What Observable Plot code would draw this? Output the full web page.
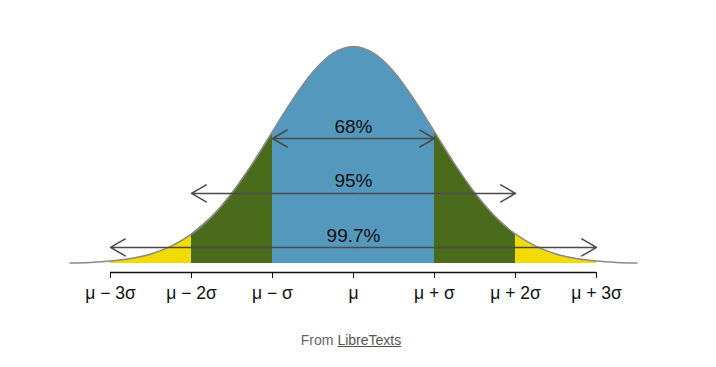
<!DOCTYPE html>
<html>
<head>
<meta charset="utf-8">
<script src="https://cdn.jsdelivr.net/npm/d3@7"></script>
<script src="https://cdn.jsdelivr.net/npm/@observablehq/plot@0.6"></script>
<style>
  html, body { margin: 0; padding: 0; background: #fff; }
  #chart svg { display: block; }
  .cap { width: 702px; text-align: center; font-family: "Liberation Sans", Arial, sans-serif; font-size: 14px; color: #666; line-height: 20px; padding-top: 20px; }
  .cap a { color: #555; text-decoration: underline; }
</style>
</head>
<body>
<div id="chart"></div>
<div class="cap">From <a>LibreTexts</a></div>
<script>
// x in units of σ from μ; y = relative density (peak = 1)
const xs = [-3.5,-3.25,-3,-2.75,-2.5,-2.25,-2,-1.75,-1.5,-1.25,-1,-0.75,-0.5,-0.25,0,0.25,0.5,0.75,1,1.25,1.5,1.75,2,2.25,2.5,2.75,3,3.25,3.5];
const ys = [0.002,0.005,0.011,0.023,0.044,0.080,0.135,0.216,0.325,0.458,0.607,0.755,0.883,0.969,1,0.969,0.883,0.755,0.607,0.458,0.325,0.216,0.135,0.080,0.044,0.023,0.011,0.005,0.002];

const tickValues = [-3,-2,-1,0,1,2,3];
const tickLabels = ["μ − 3σ","μ − 2σ","μ − σ","μ","μ + σ","μ + 2σ","μ + 3σ"];

const bandLabels = ["68%","95%","99.7%"];
const bandHalfWidths = [1,2,3];
const bandLevels = [0.576,0.323,0.074];

const curve = xs.map((x,i) => ({x, y: ys[i]}));
const seg = (a,b) => curve.filter(d => d.x >= a - 1e-9 && d.x <= b + 1e-9);
const bands = bandLabels.map((label,i) => ({label, k: bandHalfWidths[i], level: bandLevels[i]}));

const yMin = -0.0415;
const colors = {blue: "#5598be", green: "#4a6a1c", yellow: "#f2db00"};
const areaOpts = (fill) => ({x: "x", y: "y", fill, curve: "catmull-rom"});

const plot = Plot.plot({
  width: 716,
  height: 310,
  marginLeft: 69.5,
  marginRight: 79.5,
  marginTop: 46,
  marginBottom: 38,
  style: {fontFamily: "'Liberation Sans', Arial, sans-serif", background: "#fff", color: "#111"},
  x: {domain: [-3.5, 3.5], label: null},
  y: {domain: [yMin, 1], axis: null, label: null},
  marks: [
    Plot.areaY(seg(-3, -2), areaOpts(colors.yellow)),
    Plot.areaY(seg(2, 3), areaOpts(colors.yellow)),
    Plot.areaY(seg(-2, -1), areaOpts(colors.green)),
    Plot.areaY(seg(1, 2), areaOpts(colors.green)),
    Plot.areaY(seg(-1, 1), areaOpts(colors.blue)),
    Plot.line(curve.filter(d => Math.abs(d.x) <= 3.45 || true), {x: "x", y: "y", stroke: "#8a8a8a", strokeWidth: 1.5, curve: "catmull-rom"}),
    Plot.arrow(bands, {x1: 0, x2: d => -d.k, y1: "level", y2: "level", stroke: "#4a4a4a", strokeWidth: 1.5, headLength: 17, headAngle: 60}),
    Plot.arrow(bands, {x1: 0, x2: d => d.k, y1: "level", y2: "level", stroke: "#4a4a4a", strokeWidth: 1.5, headLength: 17, headAngle: 60}),
    Plot.text(bands, {x: 0, y: "level", text: "label", dy: -12, fontSize: 19, fill: "#111"}),
    Plot.ruleY([yMin], {x1: -3, x2: 3, stroke: "#111", strokeWidth: 1.5}),
    Plot.axisX(tickValues, {tickSize: 6, tickPadding: 8, tickFormat: (d, i) => tickLabels[i], fontSize: 17.5, stroke: "#111", fill: "#111", label: null})
  ]
});
document.getElementById("chart").appendChild(plot);
</script>
</body>
</html>
